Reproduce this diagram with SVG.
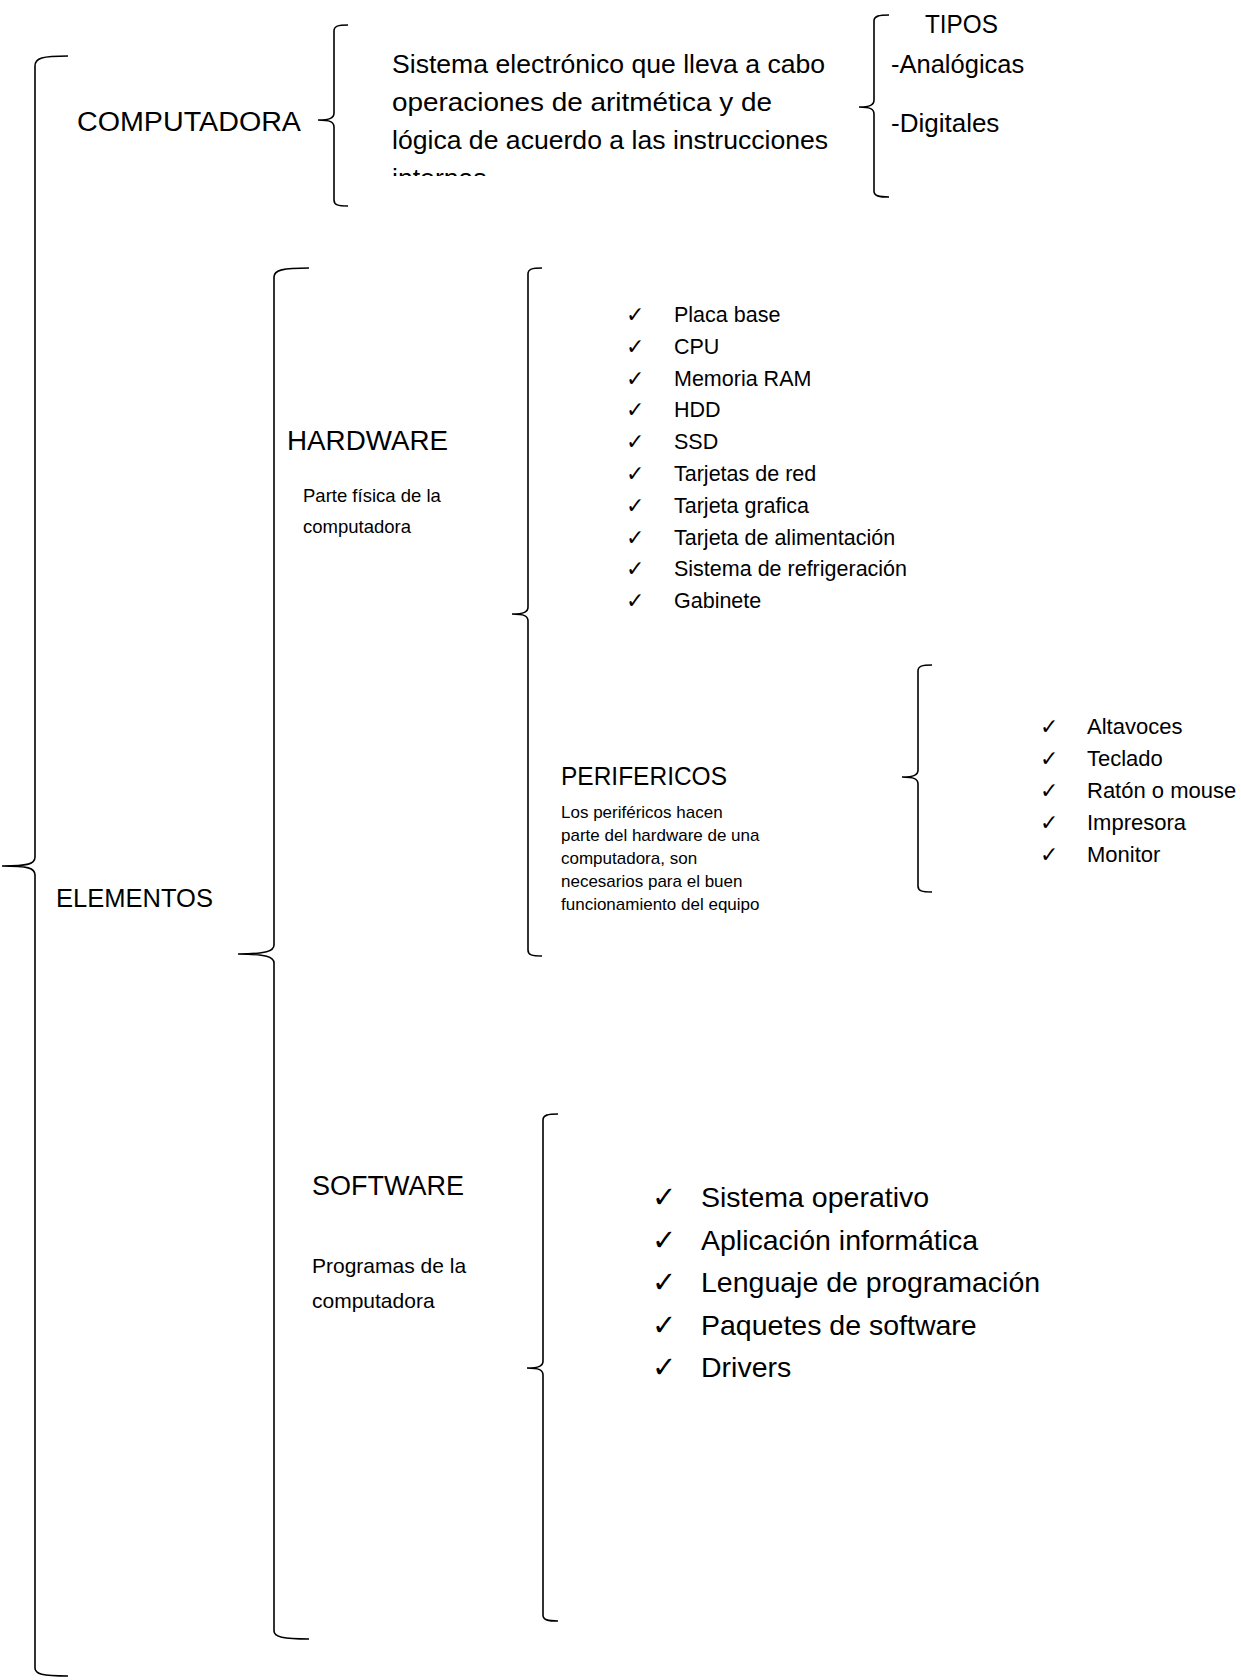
<svg xmlns="http://www.w3.org/2000/svg" width="1241" height="1680" viewBox="0 0 1241 1680">
<defs>
<style>
text{font-family:"Liberation Sans",Arial,sans-serif;fill:#000}
.brace{fill:none;stroke:#000;stroke-width:1.6}
.ck{font-family:"DejaVu Sans",sans-serif}
.hw{font-size:21.5px}
.hwc{font-size:22px}
.pf{font-size:22px}
.sw{font-size:28.5px}
.swc{font-size:29px}
</style>
<clipPath id="clipDesc"><rect x="380" y="40" width="480" height="136"/></clipPath>
</defs>
<rect width="1241" height="1680" fill="#fff"/>

<g id="connectors">
<path class="brace" d="M68,56 C42,56 35,58 35,66 L35,857 C35,864 28,866 2,866 C28,866 35,868 35,875 L35,1668 C35,1674 42,1676 68,1676"/>
<path class="brace" d="M348,25 C338,25 334,26 334,31 L334,113 C334,118 330,120 318,120 C330,120 334,122 334,127 L334,200 C334,205 338,206 348,206"/>
<path class="brace" d="M889,15 C879,15 874,16 874,21 L874,100 C874,105 870,107 859,107 C870,107 874,109 874,114 L874,191 C874,196 879,197 889,197"/>
<path class="brace" d="M309,268 C283,268 274,270 274,277 L274,945 C274,951 266,954 238,954 C266,954 274,957 274,963 L274,1631 C274,1637 283,1639 309,1639"/>
<path class="brace" d="M542,268 C532,268 528,269 528,274 L528,607 C528,612 524,614 512,614 C524,614 528,616 528,621 L528,950 C528,955 532,956 542,956"/>
<path class="brace" d="M932,665 C922,665 918,666 918,671 L918,770 C918,775 914,777 902,777 C914,777 918,779 918,784 L918,886 C918,891 922,892 932,892"/>
<path class="brace" d="M558,1114 C548,1114 543,1115 543,1120 L543,1361 C543,1366 539,1368 527,1368 C539,1368 543,1370 543,1375 L543,1615 C543,1620 548,1621 558,1621"/>
</g>

<g id="computadora">
<text x="77" y="131" font-size="27" textLength="224" lengthAdjust="spacingAndGlyphs">COMPUTADORA</text>
</g>

<g id="descripcion" font-size="26.6">
<text x="392" y="73">Sistema electrónico que lleva a cabo</text>
<text x="392" y="111" textLength="380" lengthAdjust="spacingAndGlyphs">operaciones de aritmética y de</text>
<text x="392" y="149">lógica de acuerdo a las instrucciones</text>
<text x="392" y="187" clip-path="url(#clipDesc)">internas</text>
</g>

<g id="tipos">
<text x="925" y="33" font-size="25" textLength="73" lengthAdjust="spacingAndGlyphs">TIPOS</text>
<text x="891" y="73" font-size="25.5">-Analógicas</text>
<text x="891" y="132" font-size="26">-Digitales</text>
</g>

<g id="elementos">
<text x="56" y="907" font-size="26" textLength="157" lengthAdjust="spacingAndGlyphs">ELEMENTOS</text>
</g>

<g id="hardware">
<text x="287" y="450" font-size="27" textLength="161" lengthAdjust="spacingAndGlyphs">HARDWARE</text>
<text x="303" y="502" font-size="18.5">Parte física de la</text>
<text x="303" y="533" font-size="18.5">computadora</text>
</g>

<g id="hardware-lista">
<g class="ck hwc">
<text x="626" y="322">✓</text><text x="626" y="353.8">✓</text><text x="626" y="385.6">✓</text><text x="626" y="417.4">✓</text><text x="626" y="449.2">✓</text>
<text x="626" y="481">✓</text><text x="626" y="512.8">✓</text><text x="626" y="544.6">✓</text><text x="626" y="576.4">✓</text><text x="626" y="608.2">✓</text>
</g>
<g class="hw">
<text x="674" y="322">Placa base</text>
<text x="674" y="353.8">CPU</text>
<text x="674" y="385.6">Memoria RAM</text>
<text x="674" y="417.4">HDD</text>
<text x="674" y="449.2">SSD</text>
<text x="674" y="481">Tarjetas de red</text>
<text x="674" y="512.8">Tarjeta grafica</text>
<text x="674" y="544.6">Tarjeta de alimentación</text>
<text x="674" y="576.4">Sistema de refrigeración</text>
<text x="674" y="608.2">Gabinete</text>
</g>
</g>

<g id="perifericos">
<text x="561" y="785" font-size="26" textLength="166" lengthAdjust="spacingAndGlyphs">PERIFERICOS</text>
<g font-size="17">
<text x="561" y="818">Los periféricos hacen</text>
<text x="561" y="841">parte del hardware de una</text>
<text x="561" y="864">computadora, son</text>
<text x="561" y="887">necesarios para el buen</text>
<text x="561" y="910">funcionamiento del equipo</text>
</g>
</g>

<g id="perifericos-lista">
<g class="ck hwc">
<text x="1040" y="734">✓</text><text x="1040" y="766">✓</text><text x="1040" y="798">✓</text><text x="1040" y="830">✓</text><text x="1040" y="862">✓</text>
</g>
<g class="pf">
<text x="1087" y="734">Altavoces</text>
<text x="1087" y="766">Teclado</text>
<text x="1087" y="798">Ratón o mouse</text>
<text x="1087" y="830">Impresora</text>
<text x="1087" y="862">Monitor</text>
</g>
</g>

<g id="software">
<text x="312" y="1195" font-size="27" textLength="152" lengthAdjust="spacingAndGlyphs">SOFTWARE</text>
<text x="312" y="1273" font-size="21">Programas de la</text>
<text x="312" y="1308" font-size="21">computadora</text>
</g>

<g id="software-lista">
<g class="ck swc">
<text x="652" y="1207">✓</text><text x="652" y="1249.5">✓</text><text x="652" y="1292">✓</text><text x="652" y="1334.5">✓</text><text x="652" y="1377">✓</text>
</g>
<g class="sw">
<text x="701" y="1207">Sistema operativo</text>
<text x="701" y="1249.5">Aplicación informática</text>
<text x="701" y="1292">Lenguaje de programación</text>
<text x="701" y="1334.5">Paquetes de software</text>
<text x="701" y="1377">Drivers</text>
</g>
</g>
</svg>
